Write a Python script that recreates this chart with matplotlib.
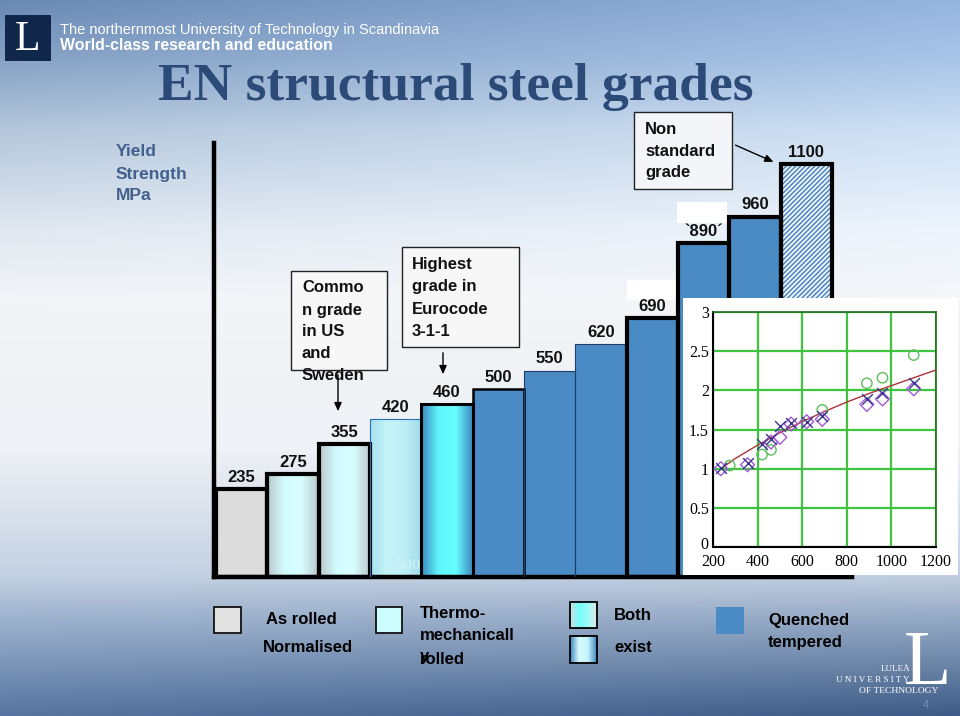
import numpy as np
import matplotlib
matplotlib.use("Agg")
import matplotlib.pyplot as plt
import matplotlib.transforms as mtrans
from matplotlib.colors import LinearSegmentedColormap, to_rgb
from matplotlib.patches import Rectangle

# ---------------- data ----------------
grades = [235, 275, 355, 420, 460, 500, 550, 620, 690, 890, 960, 1100]
grade_labels = ["235", "275", "355", "420", "460", "500", "550", "620", "690", "`890´", "960", "1100"]
process = ["as_rolled", "both_grey", "both_grey", "thermo", "both_blue", "qt", "qt", "qt", "qt", "qt", "qt", "nonstd"]

# inset: ratio vs yield strength
circ_x = [275, 420, 460, 690, 890, 960, 1100]
circ_y = [1.04, 1.18, 1.24, 1.75, 2.09, 2.16, 2.45]
diam_x = [235, 355, 460, 500, 550, 620, 690, 890, 960, 1100]
diam_y = [1.00, 1.05, 1.34, 1.40, 1.57, 1.60, 1.63, 1.82, 1.89, 2.02]
cross_x = [235, 355, 420, 460, 500, 550, 620, 690, 890, 960, 1100]
cross_y = [1.01, 1.07, 1.31, 1.38, 1.55, 1.58, 1.60, 1.67, 1.89, 1.97, 2.09]
curve_x = [240, 300, 400, 500, 600, 700, 800, 900, 1000, 1100, 1200]
curve_y = [1.01, 1.13, 1.30, 1.46, 1.60, 1.73, 1.85, 1.96, 2.06, 2.16, 2.26]
inset_xticks = [200, 400, 600, 800, 1000, 1200]
inset_yticks = [0, 0.5, 1, 1.5, 2, 2.5, 3]
inset_yticklabels = ["0", "0.5", "1", "1.5", "2", "2.5", "3"]

box_common = ["Commo", "n grade", "in US", "and", "Sweden"]
box_highest = ["Highest", "grade in", "Eurocode", "3-1-1"]
box_nonstd = ["Non", "standard", "grade"]

W, H = 960, 716
fig = plt.figure(figsize=(W / 100, H / 100), dpi=100)

SANS = ["Liberation Sans", "DejaVu Sans"]
SERIF = ["Liberation Serif", "DejaVu Serif"]


def fx(px):
    return px / W


def fy(py):
    return 1 - py / H


# ---------------- background ----------------
bg = fig.add_axes([0, 0, 1, 1], zorder=-10)
bg.set_axis_off()
stops_y = [0, 60, 130, 230, 300, 450, 575, 620, 716]
stops_c = ["#6a8ab4", "#86a2c5", "#b5c7db", "#e1e8f0", "#f2f4f7", "#eef1f5", "#c4d1e2", "#9cb1cd", "#56749f"]
yy = np.arange(H)
cols = np.array([to_rgb(c) for c in stops_c])
img = np.zeros((H, W, 3))
xs = np.linspace(0, 1, W)
for k in range(3):
    col = np.interp(yy, stops_y, cols[:, k])
    img[:, :, k] = col[:, None]
top_w = np.clip(1 - yy / 320, 0, 1)[:, None]
bot_w = np.clip((yy - 560) / 156, 0, 1)[:, None]
img += (top_w * 0.17 * xs[None, :])[:, :, None]
img -= (bot_w * 0.10 * xs[None, :])[:, :, None]
img = np.clip(img, 0, 1)
bg.imshow(img, extent=(0, W, H, 0), aspect="auto")
bg.set_xlim(0, W)
bg.set_ylim(H, 0)

# overlay axes (pixel coordinates) created early so its transform can be reused
ov = fig.add_axes([0, 0, 1, 1], zorder=10)
ov.set_axis_off()
ov.patch.set_alpha(0)
ov.set_xlim(0, W)
ov.set_ylim(H, 0)

# ---------------- main bar chart ----------------
ax = fig.add_axes([fx(214), fy(577), fx(852 - 214), (577 - 143) / H], zorder=1)
ax.patch.set_alpha(0)
x = np.arange(len(grades))

blue = "#4a8bc6"
face = {"as_rolled": "#dcdcdc", "thermo": "none", "both_grey": "none", "both_blue": "none",
        "qt": blue, "nonstd": "#e4eef6"}
edge_w = [3.0, 3.0, 3.0, 0.8, 2.2, 1.8, 0.8, 0.8, 3.0, 3.0, 3.0, 3.0]
edge_c = ["black", "black", "black", "#2a6fb0", "black", "black", "#1d3d6b", "#1d3d6b",
          "black", "black", "black", "black"]

grad_cols = {
    "both_grey": ["#b9c6c9", "#d2fbff", "#d8fdff", "#b9c6c9"],
    "thermo": ["#a6e1ee", "#c6f3f8", "#bdeef6", "#9fdcea"],
    "both_blue": ["#3c86c0", "#5ff5fb", "#66ffff", "#3c86c0"],
}

# white patches behind two labels (as in the slide)
for (px0, py0, pw, ph) in [(627, 280, 50, 20), (677, 202, 50, 21)]:
    ax.add_patch(Rectangle((px0, py0), pw, ph, facecolor="white", edgecolor="none",
                           transform=ov.transData, zorder=0.5))

plt.rcParams["hatch.linewidth"] = 1.1
bars = ax.bar(x, grades, width=1.0, color=[face[p] for p in process],
              edgecolor="none", linewidth=0, zorder=2)
for i, (b, p) in enumerate(zip(bars, process)):
    if p in grad_cols:
        cm = LinearSegmentedColormap.from_list("g%d" % i, grad_cols[p])
        im = ax.imshow(np.linspace(0, 1, 256).reshape(1, -1), cmap=cm, aspect="auto",
                       extent=(x[i] - 0.5, x[i] + 0.5, 0, grades[i]), zorder=1.5,
                       interpolation="bilinear")
        im.set_clip_path(b)
    if p == "nonstd":
        ax.bar(x[i], grades[i], width=1.0, color="#f2f7fb", hatch="///////",
               edgecolor="#4a86c2", linewidth=0, zorder=2.2)
ax.bar(x, grades, width=1.0, color="none", edgecolor=edge_c, linewidth=edge_w, zorder=3)

for i, (v, lab) in enumerate(zip(grades, grade_labels)):
    ax.annotate(lab, (x[i], v), xytext=(0, 3), textcoords="offset points",
                ha="center", va="bottom", fontsize=12, fontweight="bold",
                family=SANS, color="#111111", zorder=4)

ax.set_xlim(-0.539, 11.89)
ax.set_ylim(0, 1156)
ax.set_xticks([])
ax.set_yticks([])
for s in ["top", "right"]:
    ax.spines[s].set_visible(False)
ax.spines["left"].set_linewidth(3.2)
ax.spines["bottom"].set_linewidth(3.2)

# ---------------- inset ----------------
wbg = fig.add_axes([fx(683), fy(575), fx(958 - 683), (575 - 298) / H], zorder=4)
wbg.set_facecolor("white")
wbg.set_xticks([])
wbg.set_yticks([])
for s in wbg.spines.values():
    s.set_visible(False)

ins = fig.add_axes([fx(713), fy(547), fx(936 - 713), (547 - 312) / H], zorder=5)
ins.set_facecolor("white")
ins.set_xlim(200, 1200)
ins.set_ylim(0, 3)
ins.set_xticks(inset_xticks)
ins.set_yticks(inset_yticks)
ins.set_yticklabels(inset_yticklabels)
ins.grid(True, color="#3ec43e", linewidth=1.6)
ins.set_axisbelow(True)
ins.tick_params(axis="y", length=0, labelsize=11.5, pad=3)
ins.tick_params(axis="x", length=0, labelsize=11.5, pad=5)
for t in ins.get_xticklabels() + ins.get_yticklabels():
    t.set_family(SERIF)
# lift the y "0" label a little so it sits above the "200" label, as in the slide
ylab0 = ins.get_yticklabels()[0]
ylab0.set_transform(ylab0.get_transform() + mtrans.ScaledTranslation(0, 3 / 72, fig.dpi_scale_trans))
for s in ["left", "bottom"]:
    ins.spines[s].set_color("black")
    ins.spines[s].set_linewidth(1.5)
for s in ["top", "right"]:
    ins.spines[s].set_color("#1f6a1f")
    ins.spines[s].set_linewidth(1.2)
ins.plot(curve_x, curve_y, color="#a8343a", lw=1.0, zorder=3)
ins.scatter(circ_x, circ_y, s=55, facecolors="none", edgecolors="#5cbf5c", linewidths=1.0, zorder=4)
ins.scatter(diam_x, diam_y, s=50, marker="D", facecolors="none", edgecolors="#a45ad8", linewidths=1.0, zorder=4)
ins.scatter(cross_x, cross_y, s=60, marker="x", color="#3c3590", linewidths=1.0, zorder=4)

# ---------------- overlay: text, boxes, legend ----------------
# header
ov.add_patch(Rectangle((5, 15), 46, 46, facecolor="#10264a", edgecolor="none"))
ov.text(28, 40, "L", family=SERIF, color="white", fontsize=30, ha="center", va="center")
ov.text(60, 30, "The northernmost University of Technology in Scandinavia", family=SANS,
        color="white", fontsize=10.5, va="center")
ov.text(60, 45, "World-class research and education", family=SANS, fontweight="bold",
        color="white", fontsize=11.4, va="center")
ov.text(456, 100, "EN structural steel grades", family=SERIF, fontweight="bold",
        color="#2c4a78", fontsize=38.5, ha="center", va="baseline")

for k, line in enumerate(["Yield", "Strength", "MPa"]):
    ov.text(116, 152 + 22 * k, line, family=SANS, fontweight="bold", color="#42608d",
            fontsize=12.5, va="center", ha="left")

ARROW = dict(arrowstyle="-|>,head_length=0.5,head_width=0.22", color="black", lw=1.0)


def note_box(bx, by, bw, bh, lines, tx, ty0, fc):
    ov.add_patch(Rectangle((bx, by), bw, bh, facecolor=fc, edgecolor="#222222", lw=1.0))
    for k, line in enumerate(lines):
        ov.text(tx, ty0 + 22 * k, line, family=SANS, fontweight="bold", fontsize=12,
                va="center", ha="left", color="#111111")


note_box(291, 271, 96, 99, box_common, 302, 288, "#f7f7f7")
ov.annotate("", xy=(338, 414), xytext=(338, 372), arrowprops=ARROW)
note_box(402, 247, 117, 100, box_highest, 412, 265, "#f7f7f7")
ov.annotate("", xy=(443, 377), xytext=(443, 350), arrowprops=ARROW)
note_box(634, 112, 98, 77, box_nonstd, 645, 129, "#f3f5f8")
ov.annotate("", xy=(776, 163), xytext=(733, 144), arrowprops=ARROW)

ov.text(408, 565, "500", family=SANS, fontweight="bold", fontsize=11, color="#d8f4fa",
        alpha=0.6, ha="center", va="center")


def grad_square(x0, y0, w, h, colors, ec="black"):
    cm = LinearSegmentedColormap.from_list("sq", colors)
    ov.imshow(np.linspace(0, 1, 128).reshape(1, -1), cmap=cm, aspect="auto",
              extent=(x0, x0 + w, y0 + h, y0), interpolation="bilinear", zorder=1)
    ov.add_patch(Rectangle((x0, y0), w, h, facecolor="none", edgecolor=ec, lw=1.3, zorder=2))


# legend
ov.add_patch(Rectangle((214, 607), 27, 26, facecolor="#e2e2e2", edgecolor="#111111", lw=1.3))
ov.text(266, 620, "As rolled", family=SANS, fontweight="bold", fontsize=12, va="center")
ov.text(263, 647, "Normalised", family=SANS, fontweight="bold", fontsize=12, va="center")
ov.add_patch(Rectangle((376, 607), 26, 26, facecolor="#cdfcff", edgecolor="#111111", lw=1.3))
ov.text(420, 613, "Thermo-", family=SANS, fontweight="bold", fontsize=12, va="center")
ov.text(420, 636, "mechanicall", family=SANS, fontweight="bold", fontsize=12, va="center")
ov.text(420, 659, "rolled", family=SANS, fontweight="bold", fontsize=12, va="center")
ov.text(420, 657, "y", family=SANS, fontweight="bold", fontsize=12, va="center")
grad_square(570, 602, 27, 26, ["#d4dcdc", "#72fdfd", "#a0fbfb", "#dfe6e6"])
grad_square(570, 636, 27, 27, ["#3f86bf", "#d8fbff", "#c4f3fb", "#3f86bf"])
ov.set_xlim(0, W)
ov.set_ylim(H, 0)
ov.text(614, 616, "Both", family=SANS, fontweight="bold", fontsize=12, va="center")
ov.text(614, 648, "exist", family=SANS, fontweight="bold", fontsize=12, va="center")
ov.add_patch(Rectangle((716, 607), 28, 27, facecolor=blue, edgecolor="none"))
ov.text(768, 621, "Quenched", family=SANS, fontweight="bold", fontsize=12, va="center")
ov.text(768, 643, "tempered", family=SANS, fontweight="bold", fontsize=12, va="center")

# bottom-right logo
ov.text(927, 684, "L", family=SERIF, color="white", fontsize=56, ha="center", va="baseline")
ov.text(910, 669, "LULEÅ", family=SERIF, color="white", fontsize=6.5, ha="right", va="center")
ov.text(910, 680, "U N I V E R S I T Y", family=SERIF, color="white", fontsize=6.5, ha="right", va="center")
ov.text(938, 691, "OF TECHNOLOGY", family=SERIF, color="white", fontsize=6.8, ha="right", va="center")
ov.text(926, 705, "4", family=SANS, color="#7a90b0", fontsize=8, ha="center", va="center")

fig.savefig("out.png", dpi=100)
